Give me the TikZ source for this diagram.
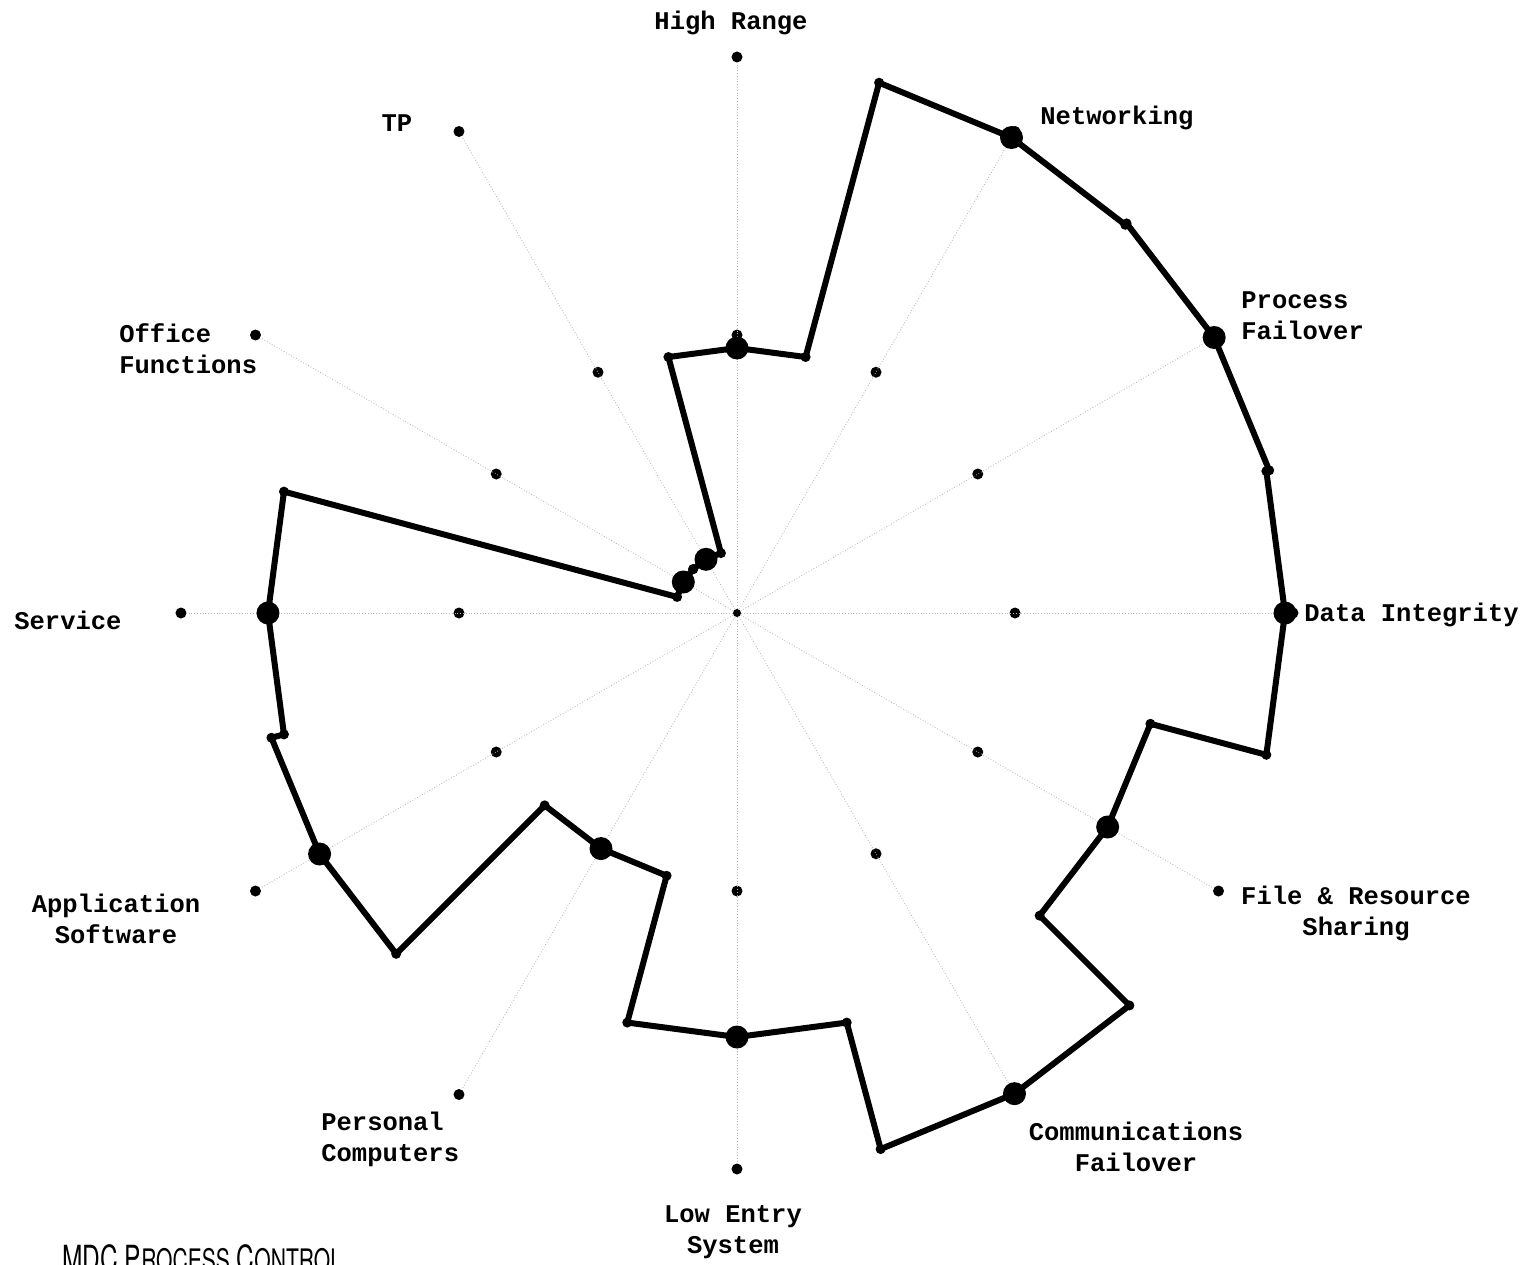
\documentclass[tikz,border=0pt]{standalone}
\usepackage{fontspec}
\setmainfont{Liberation Mono}
\newfontfamily\titlefont[FakeStretch=0.68]{TeX Gyre Heros}
\tikzset{
	axislabel/.style={font=\bfseries\fontsize{12.75}{15.5}\selectfont, inner sep=0pt, align=center},
	bigdot/.style={circle, fill=black, inner sep=0pt, minimum size=11.5pt},
	ringdot/.style={circle, fill=black, inner sep=0pt, minimum size=5.5pt},
	profile/.style={line width=3pt, line join=round, line cap=round},
	spoke/.style={black!30, line width=0.4pt, densely dotted}
}
\begin{document}
\begin{tikzpicture}[x=0.5pt, y=0.5pt]
	\useasboundingbox (-737, -651) rectangle (792, 613);
	\node[ringdot, minimum size=4pt] (c) at (0, 0) {};
	% spokes and the two rings of dots
	\foreach \ang [count=\i] in {90, 60, 30, 0, -30, -60, -90, -120, -150, 180, 150, 120} {
		\node[ringdot] (in\i) at (\ang:278) {};
		\node[ringdot] (out\i) at (\ang:556) {};
		\draw[spoke] (c) -- (out\i);
	}
	% profile, each value held 15 degrees either side of its axis
	\foreach \ang/\val [count=\i] in {90/265, 60/549, 30/551, 0/548, -30/428, -60/555, -90/424, -120/272, -150/482, 180/469, 150/62, 120/62} {
		\coordinate (s\i) at (\ang+15:\val);
		\node[bigdot] (v\i) at (\ang:\val) {};
		\coordinate (e\i) at (\ang-15:\val);
	}
	\draw[profile] (s1) \foreach \i in {1, ..., 12} { -- (s\i) -- (v\i.center) -- (e\i) } -- cycle;
	\foreach \i in {1, ..., 12} {
		\fill (s\i) circle (2.5pt);
		\fill (e\i) circle (2.5pt);
	}
	% axis labels
	\node[axislabel] (high) at (-6, 590) {High Range};
	\node[axislabel, anchor=west] (net) at (303, 495) {Networking};
	\node[axislabel, anchor=west, align=left] (proc) at (504, 297.5) {Process\\Failover};
	\node[axislabel, anchor=west] (data) at (567, -2) {Data Integrity};
	\node[axislabel] (file) at (619, -300.5) {File \& Resource\\Sharing};
	\node[axislabel] (comm) at (399, -533.5) {Communications\\Failover};
	\node[axislabel] (low) at (-4, -619.5) {Low Entry\\System};
	\node[axislabel, anchor=west, align=left] (pc) at (-416, -526.5) {Personal\\Computers};
	\node[axislabel] (app) at (-621, -305.5) {Application\\Software};
	\node[axislabel, anchor=west] (serv) at (-723, -7) {Service};
	\node[axislabel, anchor=west, align=left] (office) at (-618, 264.5) {Office\\Functions};
	\node[axislabel] (tp) at (-340, 490) {TP};
	\node[anchor=base west, inner sep=0pt, font=\titlefont\fontsize{18}{18}\selectfont] (title) at (-675, -658)
		{MDC P{\fontsize{15.5}{15.5}\selectfont ROCESS} C{\fontsize{15.5}{15.5}\selectfont ONTROL}};
\end{tikzpicture}
\end{document}
